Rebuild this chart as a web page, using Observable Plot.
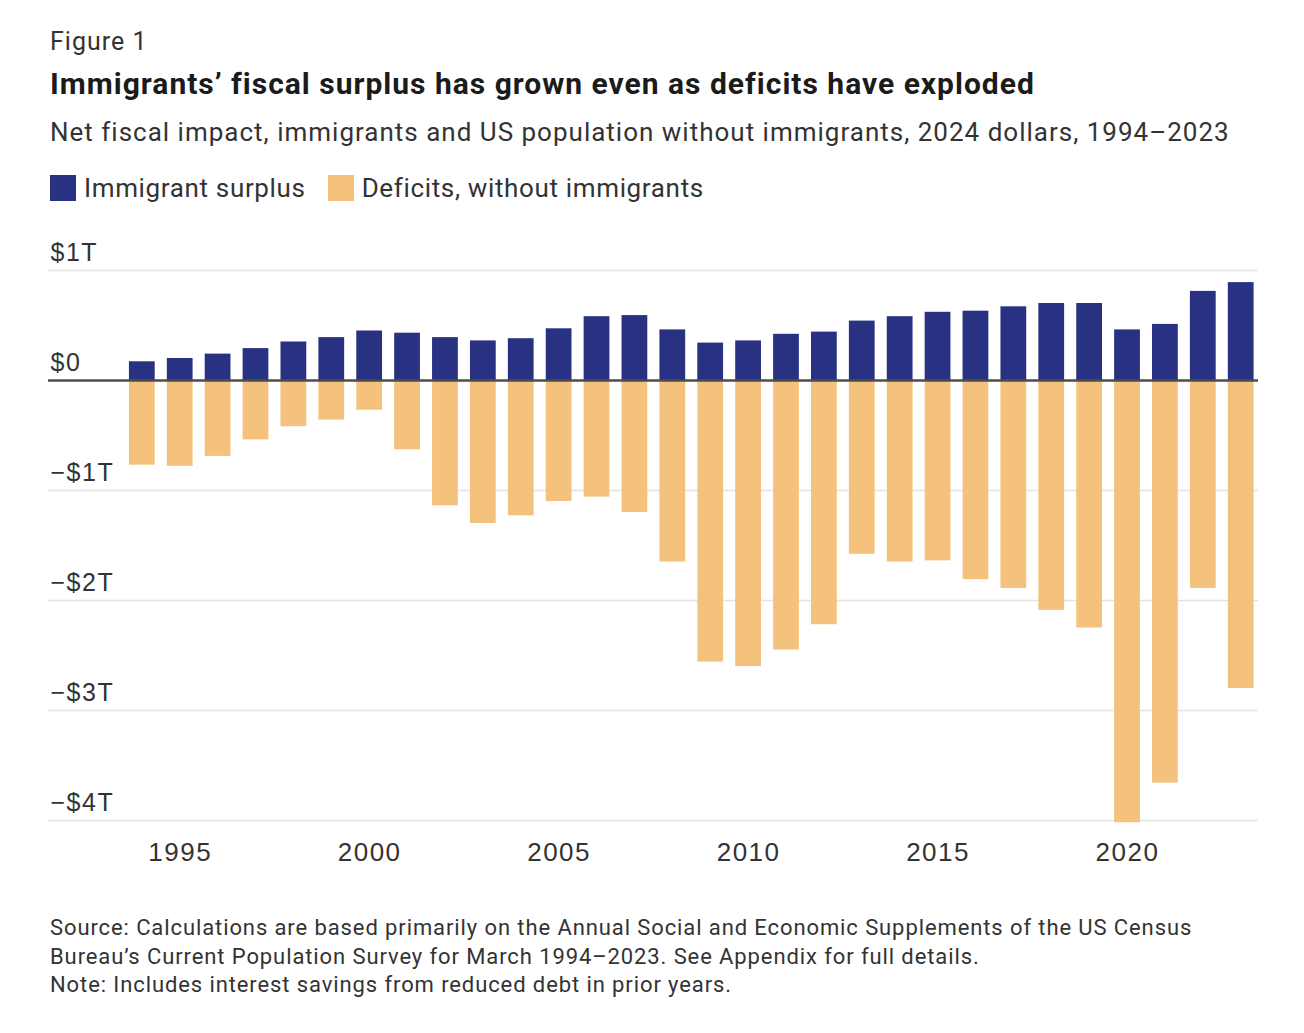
<!DOCTYPE html>
<html>
<head>
<meta charset="utf-8">
<script src="https://cdn.jsdelivr.net/npm/d3@7"></script>
<script src="https://cdn.jsdelivr.net/npm/@observablehq/plot@0.6"></script>
<style>
  html, body { margin: 0; padding: 0; background: #fff; }
  body { width: 1304px; height: 1033px; position: relative; font-family: Roboto, "Liberation Sans", sans-serif; color: #333; }
  .t { position: absolute; left: 50px; white-space: nowrap; line-height: 1; }
  #fig { top: 29px; font-size: 25px; letter-spacing: 1px; color: #333; }
  #title { top: 69px; font-size: 30px; letter-spacing: 1px; font-weight: 700; color: #1b1b1b; }
  #subtitle { top: 119px; font-size: 26px; letter-spacing: 1px; color: #333; }
  #legend { top: 175px; left: 50px; position: absolute; display: flex; align-items: center; font-size: 26px; letter-spacing: 0.65px; color: #333; line-height: 26px; }
  #legend .sw { width: 26px; height: 26px; margin-right: 8px; }
  #legend .item { display: flex; align-items: center; margin-right: 22px; }
  #chart { position: absolute; left: 0; top: 230px; }
  #source { top: 913px; font-size: 22px; letter-spacing: 0.9px; line-height: 29px; color: #333; }
  #note { top: 974px; font-size: 22px; letter-spacing: 0.9px; color: #333; }
</style>
</head>
<body>
<div class="t" id="fig"></div>
<div class="t" id="title"></div>
<div class="t" id="subtitle"></div>
<div id="legend"></div>
<div id="chart"></div>
<div class="t" id="source"></div>
<div class="t" id="note"></div>
<script>
// ---- Data (trillions of 2024 dollars) ----
const years = [1994, 1995, 1996, 1997, 1998, 1999, 2000, 2001, 2002, 2003,
               2004, 2005, 2006, 2007, 2008, 2009, 2010, 2011, 2012, 2013,
               2014, 2015, 2016, 2017, 2018, 2019, 2020, 2021, 2022, 2023];
const immigrantSurplus = [0.17, 0.20, 0.24, 0.29, 0.35, 0.39, 0.45, 0.43, 0.39, 0.36,
                          0.38, 0.47, 0.58, 0.59, 0.46, 0.34, 0.36, 0.42, 0.44, 0.54,
                          0.58, 0.62, 0.63, 0.67, 0.70, 0.70, 0.46, 0.51, 0.81, 0.89];
const deficitsWithoutImmigrants = [-0.77, -0.78, -0.69, -0.54, -0.42, -0.36, -0.27, -0.63, -1.14, -1.30,
                                   -1.23, -1.10, -1.06, -1.20, -1.65, -2.56, -2.60, -2.45, -2.22, -1.58,
                                   -1.65, -1.64, -1.81, -1.89, -2.09, -2.25, -4.02, -3.66, -1.89, -2.80];
const seriesNames = ["Immigrant surplus", "Deficits, without immigrants"];
const seriesColors = ["#283182", "#f4c27c"];
const yTicks = [1, 0, -1, -2, -3, -4];
const xTicks = [1995, 2000, 2005, 2010, 2015, 2020];

const figureLabel = "Figure 1";
const titleText = "Immigrants\u2019 fiscal surplus has grown even as deficits have exploded";
const subtitleText = "Net fiscal impact, immigrants and US population without immigrants, 2024 dollars, 1994\u20132023";
const sourceLines = [
  "Source: Calculations are based primarily on the Annual Social and Economic Supplements of the US Census",
  "Bureau\u2019s Current Population Survey for March 1994\u20132023. See Appendix for full details."
];
const noteText = "Note: Includes interest savings from reduced debt in prior years.";

// ---- Build table ----
const rows = [];
years.forEach((yr, i) => {
  rows.push({year: yr, series: seriesNames[0], value: immigrantSurplus[i]});
  rows.push({year: yr, series: seriesNames[1], value: deficitsWithoutImmigrants[i]});
});

const fmtY = d => d === 0 ? "$0" : (d < 0 ? "\u2212" : "") + "$" + Math.abs(d) + "T";

// ---- Text ----
document.getElementById("fig").textContent = figureLabel;
document.getElementById("title").textContent = titleText;
document.getElementById("subtitle").textContent = subtitleText;
document.getElementById("source").innerHTML = sourceLines.join("<br>");
document.getElementById("note").textContent = noteText;

const legend = document.getElementById("legend");
seriesNames.forEach((name, i) => {
  const item = document.createElement("div");
  item.className = "item";
  const sw = document.createElement("div");
  sw.className = "sw";
  sw.style.background = seriesColors[i];
  const lab = document.createElement("span");
  lab.textContent = name;
  item.appendChild(sw);
  item.appendChild(lab);
  legend.appendChild(item);
});

// ---- Chart ----
const chart = Plot.plot({
  width: 1304,
  height: 650,
  marginLeft: 48,
  marginRight: 46,
  marginTop: 40,
  marginBottom: 60,
  style: {fontFamily: "'Liberation Sans', Arial, sans-serif", color: "#333", background: "transparent", letterSpacing: "1.5px"},
  x: {type: "band", domain: years, range: [116.8, 1265.7], padding: 0.32, round: false},
  y: {domain: [-4, 1]},
  color: {domain: seriesNames, range: seriesColors},
  marks: [
    Plot.ruleY(yTicks.filter(d => d !== 0), {stroke: "#e3e3e3", strokeWidth: 1.5}),
    Plot.barY(rows, {x: "year", y1: 0, y2: "value", fill: "series"}),
    Plot.ruleY([0], {stroke: "#4d4d4d", strokeWidth: 2.5}),
    Plot.text(yTicks, {y: d => d, text: fmtY, frameAnchor: "left", textAnchor: "start", dx: 2, dy: -10, lineAnchor: "bottom", fontSize: 25, fill: "#333"}),
    Plot.axisX({ticks: xTicks, tickFormat: d => String(d), tickSize: 0, tickPadding: 22, fontSize: 26, label: null, fill: "#333"}),
    Plot.axisY({ticks: [], label: null})
  ]
});
document.getElementById("chart").appendChild(chart);
</script>
</body>
</html>
